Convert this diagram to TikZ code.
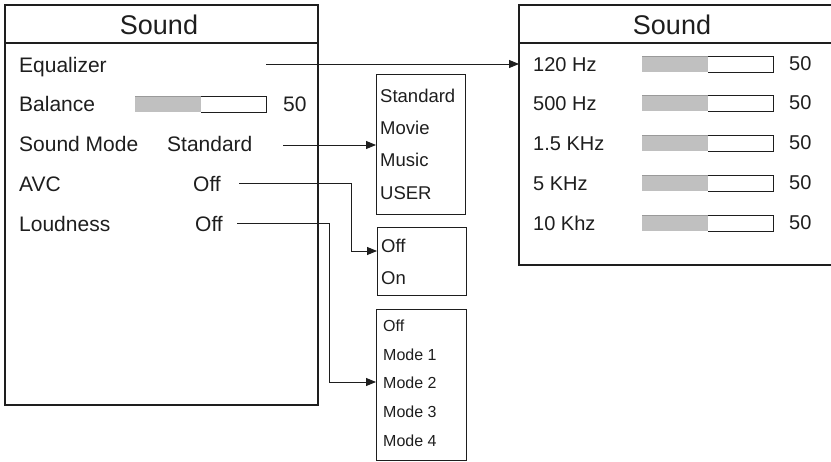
\documentclass[tikz,border=0pt]{standalone}
\usepackage{fontspec}
\setmainfont{Liberation Sans}
\usetikzlibrary{arrows.meta}
\definecolor{ink}{HTML}{1E1E1E}
\definecolor{barfill}{HTML}{C0C0C0}
\tikzset{
  panel/.style={draw=ink, line width=1.2pt, anchor=north west, inner sep=0pt, outer sep=0pt},
  menubox/.style={draw=ink, line width=1pt, anchor=north west, inner sep=0pt, outer sep=0pt},
  title/.style={font=\fontsize{27}{31}\selectfont, text=ink, anchor=base, inner sep=0pt},
  lbl/.style={font=\fontsize{20}{24}\selectfont, text=ink, anchor=base west, inner sep=0pt},
  leftlbl/.style={font=\fontsize{21}{25}\selectfont, text=ink, anchor=base west, inner sep=0pt},
  midlbl/.style={font=\fontsize{18.5}{22}\selectfont, text=ink, anchor=base west, inner sep=0pt},
  modelbl/.style={font=\fontsize{16}{20}\selectfont, text=ink, anchor=base west, inner sep=0pt},
  conn/.style={draw=ink, line width=0.9pt, -{Triangle[length=10pt,width=8pt]}},
}
\newcommand{\mybar}[3]{% name, x, ycenter
  \fill[barfill] (#2,#3-8) rectangle (#2+66,#3+8);
  \draw[ink, line width=0.8pt] (#2+66,#3-8) -- (#2+131,#3-8) -- (#2+131,#3+8) -- (#2+66,#3+8);
  \draw[barfill!80!black, line width=0.6pt] (#2,#3-8) -- (#2+66,#3-8);
  \coordinate (#1) at (#2+131,#3);
}
\begin{document}
\begin{tikzpicture}[x=1pt,y=-1pt]
\useasboundingbox (0,0) rectangle (831,462);
% left panel
\node[panel, minimum width=313pt, minimum height=400pt] (lp) at (5,5) {};
\draw[ink, line width=1.2pt] (5,43) -- (318,43);
\node[title] (lptitle) at (159,35) {Sound};
\node[leftlbl] (eq) at (19,73) {Equalizer};
\node[leftlbl] (bal) at (19,112) {Balance};
\mybar{balbar}{135}{104}
\node[leftlbl] (balval) at (283,112) {50};
\node[leftlbl] (sm) at (19,152) {Sound Mode};
\node[leftlbl] (smval) at (167,152) {Standard};
\node[leftlbl] (avc) at (19,192) {AVC};
\node[leftlbl] (avcval) at (193,192) {Off};
\node[leftlbl] (loud) at (19,232) {Loudness};
\node[leftlbl] (loudval) at (195,232) {Off};
% right panel
\node[panel, minimum width=316pt, minimum height=260pt] (rp) at (519,5) {};
\draw[ink, line width=1.2pt] (519,43) -- (835,43);
\node[title] (rptitle) at (672,35) {Sound};
\foreach \lab/\yc/\nm in {120 Hz/64/a, 500 Hz/103/b, 1.5 KHz/143/c, 5 KHz/183/d, 10 Khz/223/e}{
  \node[lbl] (f\nm) at (533,\yc+8) {\lab};
  \mybar{fbar\nm}{642}{\yc}
  \node[lbl] (fv\nm) at (789,\yc+7) {50};
}
% sound mode box
\node[menubox, minimum width=89pt, minimum height=140pt] (smbox) at (376,75) {};
\node[midlbl] (o1) at (380,103) {Standard};
\node[midlbl] (o2) at (380,135) {Movie};
\node[midlbl] (o3) at (380,167) {Music};
\node[midlbl] (o4) at (380,200) {USER};
% on/off box
\node[menubox, minimum width=89pt, minimum height=68pt] (avcbox) at (377,228) {};
\node[midlbl] (p1) at (381,253) {Off};
\node[midlbl] (p2) at (381,285) {On};
% loudness box
\node[menubox, minimum width=90pt, minimum height=151pt] (ldbox) at (376,310) {};
\node[modelbl] (m0) at (383,332) {Off};
\node[modelbl] (m1) at (383,361) {Mode 1};
\node[modelbl] (m2) at (383,389) {Mode 2};
\node[modelbl] (m3) at (383,418) {Mode 3};
\node[modelbl] (m4) at (383,447) {Mode 4};
% connectors
\coordinate (eqs) at (266,64);
\coordinate (sms) at (283,145);
\coordinate (avs) at (239,183);
\coordinate (lds) at (237,223);
\draw[conn] (eqs) -- (rp.west |- eqs);
\draw[conn] (sms) -- (smbox.west |- sms);
\draw[conn] (avs) -| (351,251) -- (avcbox.west |- 0,251);
\draw[conn] (lds) -| (329,382) -- (ldbox.west |- 0,382);
\end{tikzpicture}
\end{document}
